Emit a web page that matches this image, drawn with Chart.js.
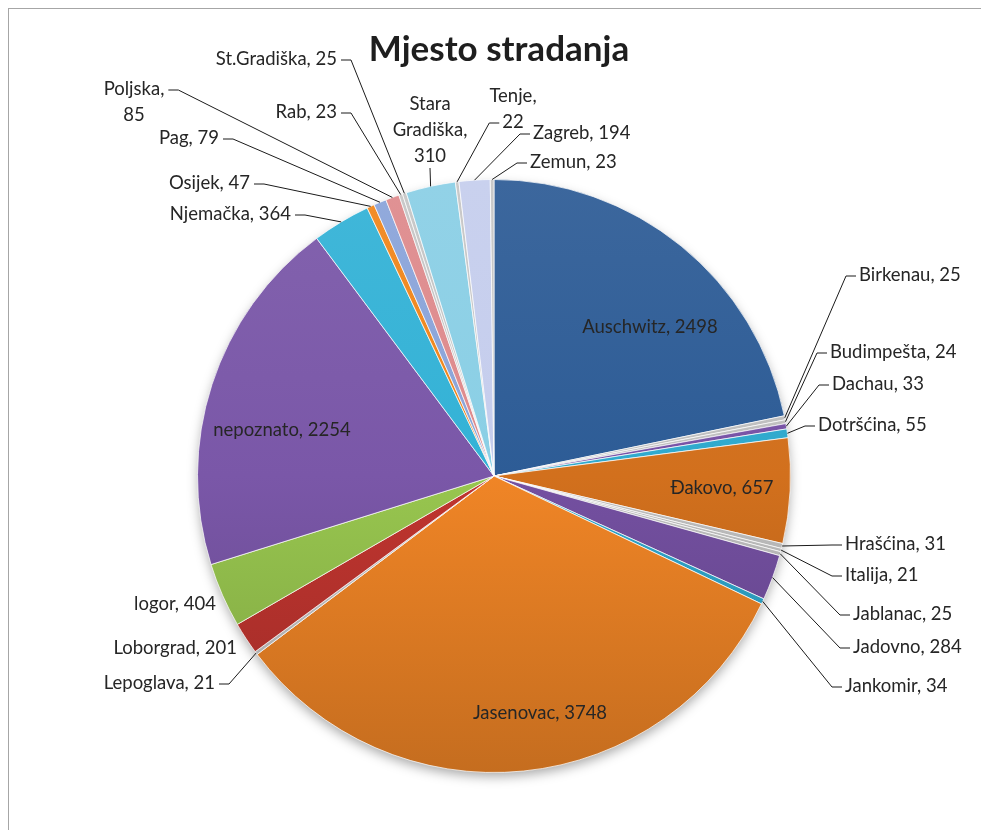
<html>
  <head>
    <title>Mjesto stradanja</title>
    <style>
      body {
        margin: 0;
        background: #ffffff;
        font-family: Lato;
      }
      .page {
        position: relative;
        width: 981px;
        height: 830px;
        overflow: hidden;
      }
      .frame {
        position: absolute;
        left: 8px;
        top: 8px;
        width: 1100px;
        height: 1000px;
        border: 1px solid #a6a6a6;
      }
      #pie {
        position: absolute;
        left: 0;
        top: 0;
      }
    </style>
    <script src="https://cdn.jsdelivr.net/npm/chart.js"></script>
  </head>

  <body>
    <div class="page">
      <div class="frame"></div>
      <canvas id="pie" width="981" height="830"></canvas>
    </div>

    <script>
      // chart data
      const chartTitle = "Mjesto stradanja";
      const categories = [
        "Auschwitz", "Birkenau", "Budimpešta", "Dachau", "Dotršćina", "Đakovo",
        "Hrašćina", "Italija", "Jablanac", "Jadovno", "Jankomir", "Jasenovac",
        "Lepoglava", "Loborgrad", "logor", "nepoznato", "Njemačka", "Osijek",
        "Pag", "Poljska", "Rab", "St.Gradiška", "Stara Gradiška", "Tenje",
        "Zagreb", "Zemun"
      ];
      const values = [
        2498, 25, 24, 33, 55, 657,
        31, 21, 25, 284, 34, 3748,
        21, 201, 404, 2254, 364, 47,
        79, 85, 23, 25, 310, 22,
        194, 23
      ];
      const sliceColors = [
        "#2d5c96", "#bfbfbf", "#bfbfbf", "#7752a6", "#2fa9cd", "#d2701d",
        "#bfbfbf", "#bfbfbf", "#bfbfbf", "#7450a1", "#30a6cb", "#f08526",
        "#c5c5c5", "#c0352f", "#98c64f", "#7a57a8", "#33b2d6", "#f0851a",
        "#8aa4d9", "#de8a8c", "#c5c5c5", "#c5c5c5", "#8acfe5", "#c5c5c5",
        "#c5cded", "#c5c5c5"
      ];

      // where each data label sits (pixels); lead = side the leader line leaves from
      const labelLayout = [
        { x: 650, y: 327, align: "center", lead: "none" },
        { x: 859, y: 275, align: "left", lead: "left" },
        { x: 830, y: 352, align: "left", lead: "left" },
        { x: 832, y: 384, align: "left", lead: "left" },
        { x: 818, y: 425, align: "left", lead: "left" },
        { x: 722, y: 488, align: "center", lead: "none" },
        { x: 845, y: 544, align: "left", lead: "left" },
        { x: 845, y: 575, align: "left", lead: "left" },
        { x: 853, y: 614, align: "left", lead: "left" },
        { x: 853, y: 647, align: "left", lead: "left" },
        { x: 845, y: 686, align: "left", lead: "left" },
        { x: 540, y: 713, align: "center", lead: "none" },
        { x: 215, y: 683, align: "right", lead: "right" },
        { x: 237, y: 648, align: "right", lead: "none" },
        { x: 216, y: 604, align: "right", lead: "none" },
        { x: 282, y: 430, align: "center", lead: "none" },
        { x: 291, y: 214, align: "right", lead: "right" },
        { x: 250, y: 183, align: "right", lead: "right" },
        { x: 219, y: 138, align: "right", lead: "right" },
        { x: 134, y: 89, align: "center", lead: "right", breakAt: 1 },
        { x: 337, y: 112, align: "right", lead: "right" },
        { x: 337, y: 59, align: "right", lead: "right" },
        { x: 430, y: 104, align: "center", lead: "bottom", breakAt: 2 },
        { x: 513, y: 96, align: "center", lead: "left2", breakAt: 1 },
        { x: 533, y: 133, align: "left", lead: "left" },
        { x: 530, y: 162, align: "left", lead: "left" }
      ];

      const labelFont = "18.5px Lato";
      const lineGap = 26;

      function shade(hex, amt) {
        let n = parseInt(hex.slice(1), 16);
        let r = (n >> 16) & 255, g = (n >> 8) & 255, b = n & 255;
        function f(c) {
          let v = amt > 0 ? c + (255 - c) * amt : c * (1 + amt);
          return Math.round(Math.max(0, Math.min(255, v)));
        }
        return "rgb(" + f(r) + "," + f(g) + "," + f(b) + ")";
      }

      function labelLines(i) {
        let words = (categories[i] + ", " + values[i]).split(" ");
        let brk = labelLayout[i].breakAt;
        if (!brk) return [words.join(" ")];
        if (brk === 1) return [words.slice(0, words.length - 1).join(" "), words[words.length - 1]];
        return words; // one word per line
      }

      // soft shadow under the whole pie
      const pieShadow = {
        id: "pieShadow",
        beforeDatasetsDraw(chart) {
          const arc = chart.getDatasetMeta(0).data[0];
          const ctx = chart.ctx;
          ctx.save();
          ctx.shadowColor = "rgba(0,0,0,0.35)";
          ctx.shadowBlur = 12;
          ctx.shadowOffsetY = 5;
          ctx.fillStyle = "#ffffff";
          ctx.beginPath();
          ctx.arc(arc.x, arc.y, arc.outerRadius - 1, 0, Math.PI * 2);
          ctx.fill();
          ctx.restore();
        }
      };

      // title, data labels and leader lines
      const pieLabels = {
        id: "pieLabels",
        afterDraw(chart) {
          const ctx = chart.ctx;
          const arcs = chart.getDatasetMeta(0).data;
          ctx.save();
          ctx.fillStyle = "#1e1e1e";
          ctx.font = "bold 35px Lato";
          ctx.textAlign = "center";
          ctx.textBaseline = "middle";
          ctx.fillText(chartTitle, 499, 50);

          ctx.font = labelFont;
          ctx.strokeStyle = "#1a1a1a";
          ctx.lineWidth = 1;
          arcs.forEach((arc, i) => {
            const lay = labelLayout[i];
            const lines = labelLines(i);
            ctx.textAlign = lay.align;
            ctx.fillStyle = "#262626";
            lines.forEach((t, k) => ctx.fillText(t, lay.x, lay.y + k * lineGap));

            if (lay.lead === "none") return;
            const mid = (arc.startAngle + arc.endAngle) / 2;
            const px = arc.x + Math.cos(mid) * arc.outerRadius;
            const py = arc.y + Math.sin(mid) * arc.outerRadius;
            let lineIdx = lay.lead === "left2" ? lines.length - 1 : 0;
            let w = ctx.measureText(lines[lineIdx]).width;
            let left, right;
            if (lay.align === "left") { left = lay.x; right = lay.x + w; }
            else if (lay.align === "right") { left = lay.x - w; right = lay.x; }
            else { left = lay.x - w / 2; right = lay.x + w / 2; }
            const ly = lay.y + lineIdx * lineGap + 1;
            ctx.beginPath();
            if (lay.lead === "bottom") {
              const by = lay.y + (lines.length - 1) * lineGap + 12;
              ctx.moveTo(lay.x, by);
              ctx.lineTo(px, py);
            } else if (lay.lead === "right") {
              ctx.moveTo(right + 4, ly);
              ctx.lineTo(right + 14, ly);
              ctx.lineTo(px, py);
            } else {
              ctx.moveTo(left - 3, ly);
              ctx.lineTo(left - 13, ly);
              ctx.lineTo(px, py);
            }
            ctx.stroke();
          });
          ctx.restore();
        }
      };

      new Chart(document.getElementById("pie"), {
        type: "pie",
        data: {
          labels: categories,
          datasets: [
            {
              data: values,
              backgroundColor: (c) => {
                const area = c.chart.chartArea;
                const base = sliceColors[c.dataIndex];
                if (!area) return base;
                const g = c.chart.ctx.createLinearGradient(0, area.top, 0, area.bottom);
                g.addColorStop(0, shade(base, 0.07));
                g.addColorStop(0.5, base);
                g.addColorStop(1, shade(base, -0.18));
                return g;
              },
              borderColor: "rgba(255,255,255,0.7)",
              borderWidth: 1
            }
          ]
        },
        options: {
          responsive: false,
          animation: false,
          layout: {
            padding: { top: 179, bottom: 57, left: 197, right: 190 }
          },
          plugins: {
            legend: { display: false },
            tooltip: { enabled: false }
          }
        },
        plugins: [pieShadow, pieLabels]
      });
    </script>
  </body>
</html>
